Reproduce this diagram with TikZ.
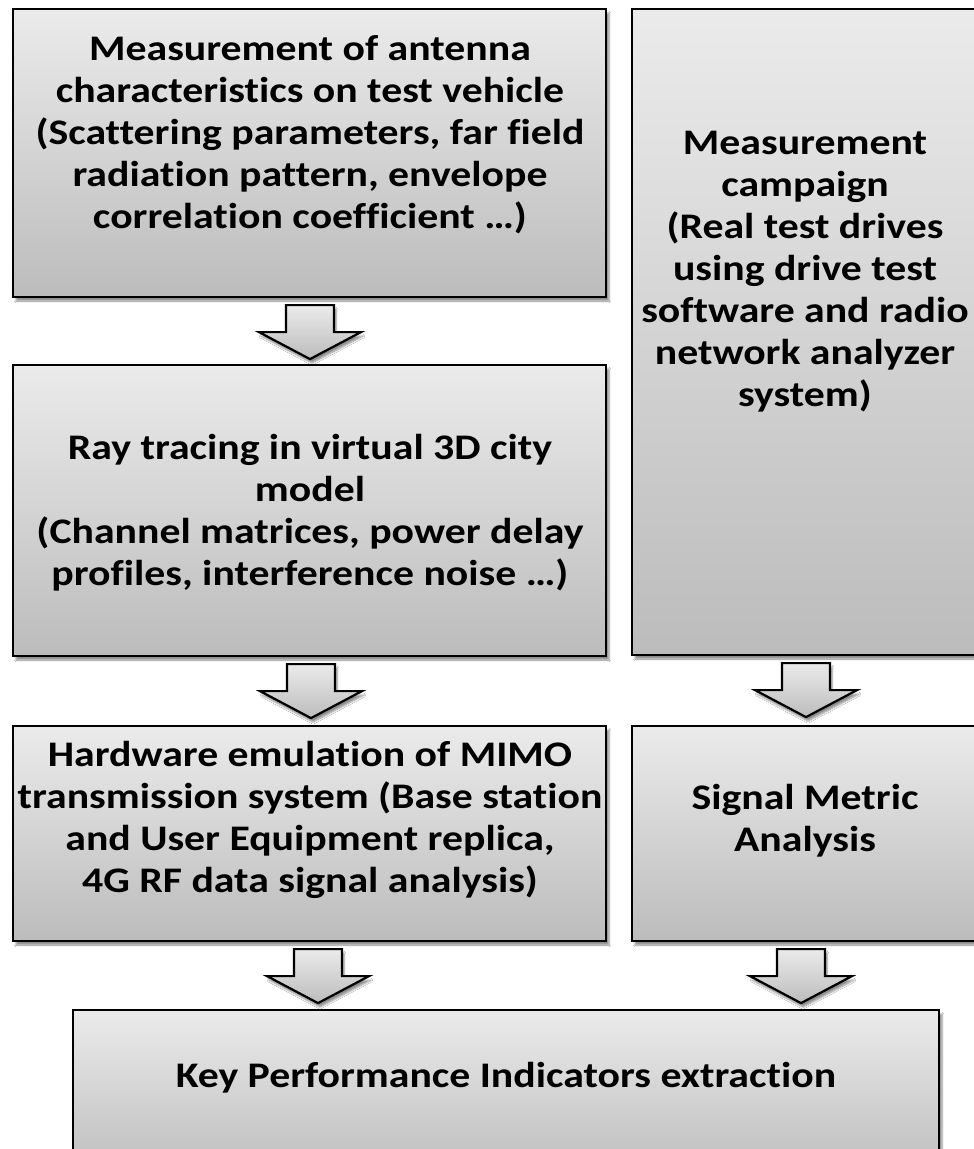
\documentclass[tikz,border=0pt]{standalone}
\usepackage{fontspec}
\setmainfont{Carlito}[Ligatures=NoCommon, FakeStretch=1.16]
\usetikzlibrary{shadows.blur}
\definecolor{boxtop}{HTML}{EBEBEB}
\definecolor{boxbot}{HTML}{BCBCBC}
\tikzset{
  panel/.style={draw=black, line width=2.2pt, top color=boxtop, bottom color=boxbot,
    blur shadow={shadow xshift=3pt, shadow yshift=-4pt, shadow blur steps=6, shadow opacity=45},
    rectangle, inner sep=0pt},
  caption/.style={align=center, font=\fontsize{36}{42}\selectfont\bfseries, inner sep=0pt},
  flowarrow/.style={draw=black, line width=2.2pt, line join=miter, top color=boxtop, bottom color=boxbot,
    blur shadow={shadow xshift=2pt, shadow yshift=-4pt, shadow blur steps=6, shadow opacity=45}}
}
% block arrow hanging below a named top-centre coordinate
\newcommand\downblock[1]{%
  \path[flowarrow] (#1) ++(-24,0) -- ++(48,0) -- ++(0,27) -- ++(27,0) -- ++(-51,27)
    -- ++(-51,-27) -- ++(27,0) -- cycle;}
\begin{document}
\begin{tikzpicture}[x=1pt,y=-1pt]
\useasboundingbox (0,0) rectangle (974,1149);
\fill[white] (0,0) rectangle (974,1149);
\begin{scope}
\clip (0,0) rectangle (974,1149);

% boxes
\node[panel, minimum width=593pt, minimum height=288pt] (m1) at (309.5,153) {};
\node[panel, minimum width=593pt, minimum height=291pt] (m2) at (309.5,510.5) {};
\node[panel, minimum width=593pt, minimum height=215pt] (m3) at (309.5,833.5) {};
\node[panel, minimum width=350pt, minimum height=646pt] (m4) at (807,332) {};
\node[panel, minimum width=350pt, minimum height=215pt] (m5) at (807,833.5) {};
\node[panel, minimum width=866pt, minimum height=170pt] (m6) at (506,1095) {};

% texts
\node[caption] (t1) at (310,135) {Measurement of antenna\\characteristics on test vehicle\\(Scattering parameters, far field\\radiation pattern, envelope\\correlation coefficient …)};
\node[caption] (t2) at (310,513) {Ray tracing in virtual 3D city\\model\\(Channel matrices, power delay\\profiles, interference noise …)};
\node[caption] (t3) at (310,820) {Hardware emulation of MIMO\\transmission system (Base station\\and User Equipment replica,\\4G RF data signal analysis)};
\node[caption] (t4) at (805,271.5) {Measurement\\campaign\\(Real test drives\\using drive test\\software and radio\\network analyzer\\system)};
\node[caption] (t5) at (805,821) {Signal Metric\\Analysis};
\node[caption] (t6) at (506,1078) {Key Performance Indicators extraction};

% arrows between boxes
\coordinate (a1) at ([yshift=-7pt]m1.south -| 310,0);
\coordinate (a2) at ([yshift=-7pt]m2.south -| 311,0);
\coordinate (a3) at ([yshift=-7pt]m3.south -| 318,0);
\coordinate (a4) at ([yshift=-7pt]m4.south -| 806,0);
\coordinate (a5) at ([yshift=-7pt]m5.south -| 801,0);
\downblock{a1}
\downblock{a2}
\downblock{a3}
\downblock{a4}
\downblock{a5}
\end{scope}
\end{tikzpicture}
\end{document}
